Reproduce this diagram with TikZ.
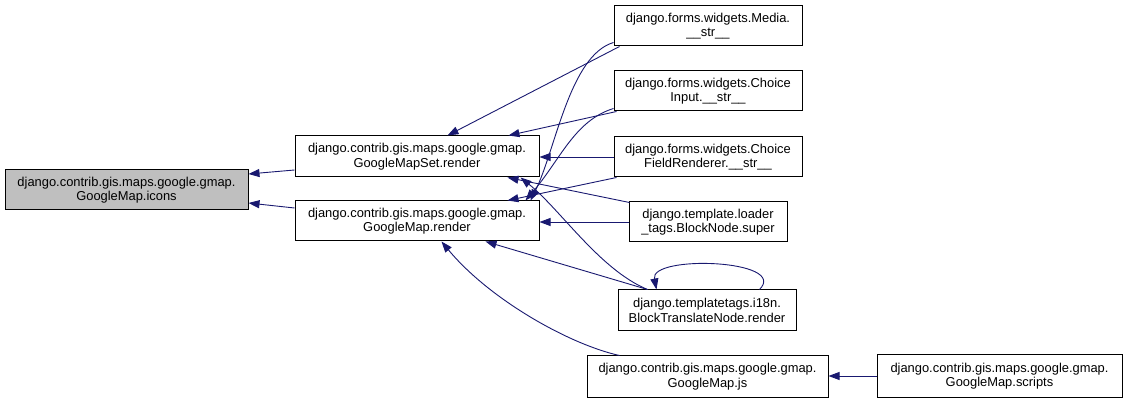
\documentclass[tikz,border=0pt]{standalone}
\usepackage{fontspec}
\setmainfont{Liberation Sans}
\usetikzlibrary{arrows.meta}
\definecolor{edgecol}{HTML}{191970}
\definecolor{hlfill}{HTML}{BFBFBF}
\tikzset{
  fn/.style={draw=black, line width=1pt, fill=white, inner sep=0pt, align=center,
    font=\fontsize{12.9}{14.5}\selectfont, text=black},
  hl/.style={fn, fill=hlfill},
  edge/.style={draw=edgecol, line width=0.9pt, -{Triangle[length=11pt,width=8pt]}}
}
\begin{document}
\begin{tikzpicture}[x=1pt,y=-1pt]
\useasboundingbox (0,0) rectangle (1125,403);
% nodes
\node[hl, minimum width=243pt, minimum height=40pt] (icons) at (126.5,190) {django.contrib.gis.maps.google.gmap.\\GoogleMap.icons};
\node[fn, minimum width=244pt, minimum height=41pt] (setrender) at (417,156.5) {django.contrib.gis.maps.google.gmap.\\GoogleMapSet.render};
\node[fn, minimum width=244pt, minimum height=40pt] (maprender) at (417,221) {django.contrib.gis.maps.google.gmap.\\GoogleMap.render};
\node[fn, minimum width=188pt, minimum height=40pt] (media) at (708,26) {django.forms.widgets.Media.\\\_\_str\_\_};
\node[fn, minimum width=188pt, minimum height=40pt] (choiceinput) at (708,91) {django.forms.widgets.Choice\\Input.\_\_str\_\_};
\node[fn, minimum width=188pt, minimum height=40pt] (choicefield) at (708,157) {django.forms.widgets.Choice\\FieldRenderer.\_\_str\_\_};
\node[fn, minimum width=158pt, minimum height=40pt] (blocksuper) at (708,222) {django.template.loader\\\_tags.BlockNode.super};
\node[fn, minimum width=178pt, minimum height=41pt] (blocktrans) at (707,310.5) {django.templatetags.i18n.\\BlockTranslateNode.render};
\node[fn, minimum width=241pt, minimum height=41pt] (mapjs) at (707.5,376.5) {django.contrib.gis.maps.google.gmap.\\GoogleMap.js};
\node[fn, minimum width=245pt, minimum height=42pt] (scripts) at (999.5,376) {django.contrib.gis.maps.google.gmap.\\GoogleMap.scripts};
% edges
\draw[edge] ([yshift=-13.5pt]setrender.west) -- ([yshift=16pt]icons.east);
\draw[edge] ([yshift=13pt]maprender.west) -- ([yshift=-13pt]icons.east);
\draw[edge] ([xshift=6pt]media.south west) -- ([xshift=153pt]setrender.north west);
\draw[edge] ([yshift=4pt]media.south west) .. controls +(-44,13) and +(25,-50) .. ([xshift=-9pt]maprender.north east);
\draw[edge] ([xshift=3pt]choiceinput.south west) -- ([xshift=-31pt]setrender.north east);
\draw[edge] ([yshift=3pt]choiceinput.south west) .. controls +(-39,12) and +(35,-41) .. ([xshift=-14pt]maprender.north east);
\draw[edge] (choicefield.west) -- (choicefield.west -| setrender.east);
\draw[edge] ([xshift=3pt]choicefield.south west) -- ([xshift=-32pt]maprender.north east);
\draw[edge] ([xshift=1pt,yshift=-1pt]blocksuper.north west) -- ([xshift=-32pt]setrender.south east);
\draw[edge] (blocksuper.west) -- (blocksuper.west -| maprender.east);
\draw[edge] ([xshift=30pt]blocktrans.north west) .. controls +(-48,-20) and +(40,32) .. ([xshift=-19pt]setrender.south east);
\draw[edge] ([xshift=30pt]blocktrans.north west) -- ([xshift=-54pt]maprender.south east);
\draw[edge] ([xshift=142pt]blocktrans.north west) .. controls +(30,-30) and +(-7,-35) .. ([xshift=39pt]blocktrans.north west);
\draw[edge] ([xshift=33pt]mapjs.north west) .. controls +(-50,-11) and +(48,58) .. ([xshift=147pt]maprender.south west);
\draw[edge] (scripts.west) -- (scripts.west -| mapjs.east);
\end{tikzpicture}
\end{document}
